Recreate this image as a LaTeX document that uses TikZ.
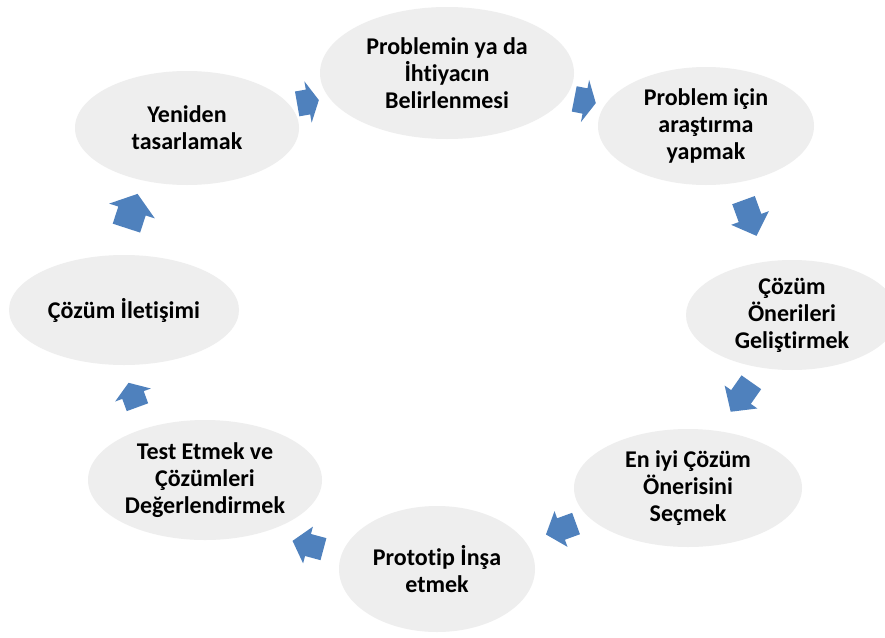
\documentclass[tikz,border=0pt]{standalone}
\usepackage{fontspec}
\setmainfont[Ligatures=NoCommon]{Carlito}
\usetikzlibrary{shapes.geometric}
\definecolor{ellgray}{HTML}{EEEEEE}
\definecolor{arrowblue}{HTML}{4F81BD}
\tikzset{
  stepell/.style={ellipse, fill=ellgray, inner sep=0pt, align=center,
    font=\fontsize{24}{27}\selectfont\bfseries},
}
% block arrow: name, cx, cy, angle (visual ccw), length, head width
\newcommand{\blkarrow}[6]{%
  \coordinate (#1) at (#2,#3);
  \begin{scope}[shift={(#1)}, rotate=#4]
    \fill[arrowblue] (-#5/2, 0.3*#6) -- (0, 0.3*#6) -- (0, 0.5*#6) -- (#5/2, 0)
      -- (0, -0.5*#6) -- (0, -0.3*#6) -- (-#5/2, -0.3*#6) -- cycle;
  \end{scope}}
\begin{document}
\begin{tikzpicture}[x=1pt, y=-1pt]
\useasboundingbox (0,0) rectangle (885,637);
\fill[white] (0,0) rectangle (885,637);

\node[stepell, minimum width=254pt, minimum height=132pt] (n1) at (447,73)
  {Problemin ya da\\İhtiyacın\\Belirlenmesi};
\node[stepell, minimum width=216pt, minimum height=118pt] (n2) at (706,126)
  {Problem için\\araştırma\\yapmak};
\node[stepell, minimum width=212pt, minimum height=110pt] (n3) at (792,315)
  {Çözüm\\Önerileri\\Geliştirmek};
\node[stepell, minimum width=228pt, minimum height=118pt] (n4) at (688,488)
  {En iyi Çözüm\\Önerisini\\Seçmek};
\node[stepell, minimum width=196pt, minimum height=126pt] (n5) at (437,569)
  {Prototip İnşa\\etmek};
\node[stepell, minimum width=234pt, minimum height=120pt] (n6) at (205,480)
  {Test Etmek ve\\Çözümleri\\Değerlendirmek};
\node[stepell, minimum width=230pt, minimum height=110pt] (n7) at (124,310)
  {Çözüm İletişimi};
\node[stepell, minimum width=224pt, minimum height=114pt] (n8) at (187,128)
  {Yeniden\\tasarlamak};

\blkarrow{a1}{308}{102}{10}{22}{42}
\blkarrow{a2}{585}{101}{-11}{22}{43}
\blkarrow{a3}{750}{218}{-70}{38}{40}
\blkarrow{a4}{741}{397}{-125}{36}{40}
\blkarrow{a5}{561}{529}{-160}{32}{38}
\blkarrow{a6}{308}{545}{165}{32}{38}
\blkarrow{a7}{133}{395}{110}{26}{38}
\blkarrow{a8}{132}{211}{72}{36}{48}
\end{tikzpicture}
\end{document}
